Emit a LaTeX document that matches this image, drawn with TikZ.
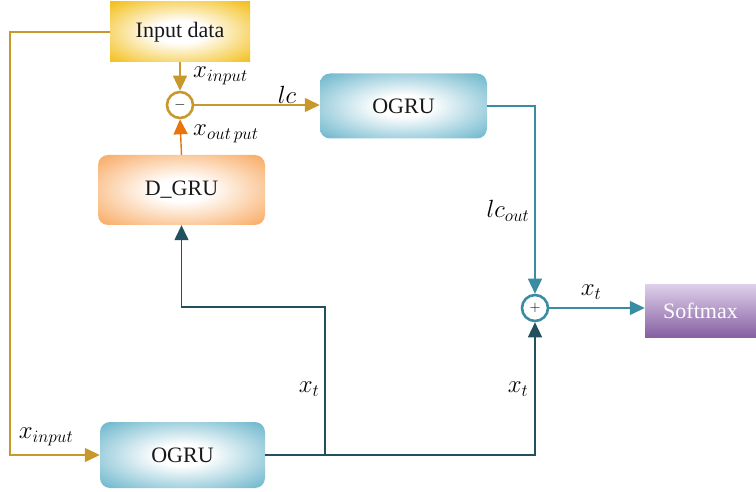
\documentclass[tikz,border=0pt]{standalone}
\usepackage{fontspec}
\setmainfont{Liberation Serif}
\usetikzlibrary{arrows.meta}

\definecolor{ycol}{HTML}{F2B800}
\definecolor{bcol}{HTML}{4FA8C2}
\definecolor{ocol}{HTML}{F79A45}
\definecolor{goldln}{HTML}{C8982C}
\definecolor{orangeln}{HTML}{E8740E}
\definecolor{tealln}{HTML}{3A8CA3}
\definecolor{darkln}{HTML}{22505F}
\definecolor{softtop}{HTML}{DDCEEA}
\definecolor{softbot}{HTML}{8660A2}

% soft glows: white centre fading to the box colour at the rim
\pgfdeclareradialshading{yglow}{\pgfpoint{0bp}{0bp}}{color(0bp)=(white); color(9bp)=(white); color(38bp)=(ycol); color(100bp)=(ycol)}
\pgfdeclareradialshading{bglow}{\pgfpoint{0bp}{0bp}}{color(0bp)=(white); color(8bp)=(white); color(40bp)=(bcol); color(100bp)=(bcol)}
\pgfdeclareradialshading{oglow}{\pgfpoint{0bp}{0bp}}{color(0bp)=(white); color(8bp)=(white); color(40bp)=(ocol); color(100bp)=(ocol)}

\tikzset{
  boxtxt/.style={font=\fontsize{22}{25}\selectfont, text=black!90, inner sep=0pt},
  yellowbox/.style={boxtxt, shading=yglow, minimum width=140pt, minimum height=60pt},
  bluebox/.style={boxtxt, shading=bglow, rounded corners=10pt},
  orangebox/.style={boxtxt, shading=oglow, rounded corners=10pt},
  softbox/.style={boxtxt, top color=softtop, bottom color=softbot, text=white, minimum width=111pt, minimum height=52pt},
  opcirc/.style={circle, minimum size=26pt, inner sep=0pt, line width=2.6pt, fill=white, font=\fontsize{15}{17}\selectfont},
  tip/.style={-{Triangle[length=15pt,width=14pt]}},
  goldline/.style={draw=goldln, line width=1.4pt},
  orangeline/.style={draw=orangeln, line width=1.4pt},
  tealline/.style={draw=tealln, line width=1.4pt},
  darkline/.style={draw=darkln, line width=1.4pt},
  lbl/.style={font=\fontsize{23}{25}\selectfont, inner sep=0pt},
}

\begin{document}
\begin{tikzpicture}[x=1pt,y=-1pt]
\useasboundingbox (0,0) rectangle (756,492);

% blocks
\node[yellowbox] (inp) at (180,32) {Input data};
\node[opcirc, draw=goldln] (minus) at (180,105) {$-$};
\node[bluebox, minimum width=167pt, minimum height=65pt] (ogrutop) at (403.5,106) {OGRU};
\node[orangebox, minimum width=167pt, minimum height=70pt] (dgru) at (181.5,190) {D\_GRU};
\node[opcirc, draw=tealln] (plus) at (535,308) {$+$};
\node[softbox] (soft) at (700.5,311) {Softmax};
\node[bluebox, minimum width=165pt, minimum height=66pt] (ogrubot) at (182.5,455) {OGRU};

% helper points for the routed lines
\coordinate (lft) at (10,32);
\coordinate (br) at (325,454);
\coordinate (bend) at (325,307);

% connectors
\draw[goldline, tip] (inp.south) -- (minus.north);
\draw[orangeline, -{Triangle[length=15pt,width=14pt,fill=orangeln]}] (dgru.north) -- (minus.south);
\draw[goldline, tip] (minus.east) -- (minus.east -| ogrutop.west);
\draw[tealline, tip] (ogrutop.east) -| (plus.north);
\draw[tealline, tip] (plus.east) -- (plus.east -| soft.west);
\draw[darkline, tip] (ogrubot.east) -| (plus.south);
\draw[darkline, tip] (br) -- (bend) -| (dgru.south);
\draw[goldline, tip] (inp.west) -- (lft) |- (ogrubot.west);

% labels
\node[lbl, anchor=west] (lxin) at (193,76) {$x_{input}$};
\node[lbl, anchor=west] (lxout) at (193,134) {$x_{out\,put}$};
\node[lbl] (llc) at (287,95) {$lc$};
\node[lbl] (llcout) at (508,211) {$lc_{out}$};
\node[lbl] (lxt1) at (591,292) {$x_t$};
\node[lbl] (lxt2) at (309,389) {$x_t$};
\node[lbl] (lxt3) at (518,389) {$x_t$};
\node[lbl] (lxin2) at (46,437) {$x_{input}$};
\end{tikzpicture}
\end{document}
